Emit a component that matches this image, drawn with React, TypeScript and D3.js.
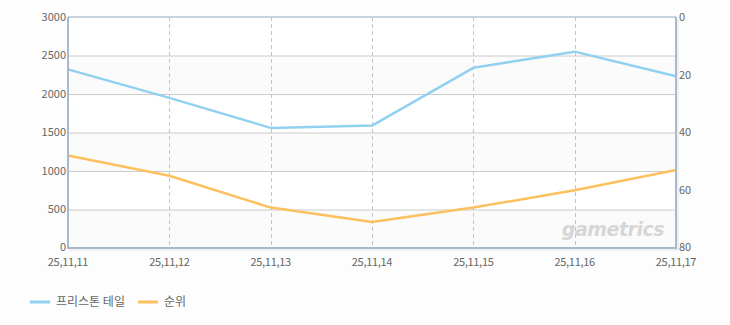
import React from "react";
import * as d3 from "d3";

const categories = ["25,11,11", "25,11,12", "25,11,13", "25,11,14", "25,11,15", "25,11,16", "25,11,17"];
const seriesA = [2320, 1950, 1560, 1590, 2340, 2550, 2230];
const seriesRank = [48, 55, 66, 71, 66, 60, 53];
const leftTicks = [0, 500, 1000, 1500, 2000, 2500, 3000];
const rightTicks = [0, 20, 40, 60, 80];
const seriesNames = ["프리스톤 테일", "순위"];

const W = 730, H = 325;
const L = 68, R = 676, T = 17, B = 248;
const font = "'Noto Sans CJK KR', 'DejaVu Sans', sans-serif";

export default function App() {
  const x = d3.scalePoint<string>().domain(categories).range([L, R]);
  const yL = d3.scaleLinear().domain([0, 3000]).range([B, T]);
  const yR = d3.scaleLinear().domain([0, 80]).range([T, B]);
  const lineA = d3.line<number>().x((_, i) => x(categories[i])!).y(d => yL(d));
  const lineR = d3.line<number>().x((_, i) => x(categories[i])!).y(d => yR(d));
  const bands = leftTicks.slice(0, -1).map((t, i) => ({ t0: t, t1: leftTicks[i + 1], i }));

  return (
    <svg width={W} height={H} style={{ position: "absolute", left: 0, top: 0, background: "#fdfdfd" }}>
      <rect x={0} y={0} width={W} height={H} fill="#fdfdfd" />
      {bands.map(b => (
        <rect key={b.i} x={L} y={yL(b.t1)} width={R - L} height={yL(b.t0) - yL(b.t1)} fill={b.i % 2 === 0 ? "#fbfbfb" : "#ffffff"} />
      ))}
      {leftTicks.slice(1, -1).map(t => (
        <line key={t} x1={L} x2={R} y1={yL(t) + 0.5} y2={yL(t) + 0.5} stroke="#cccccc" strokeWidth={1} />
      ))}
      {categories.slice(1, -1).map(c => (
        <line key={c} x1={Math.round(x(c)!) + 0.5} x2={Math.round(x(c)!) + 0.5} y1={T} y2={B} stroke="#c4c4c4" strokeWidth={1} strokeDasharray="4,3" />
      ))}
      <text x={664} y={236} textAnchor="end" fontFamily="'DejaVu Sans', sans-serif" fontWeight="bold" fontStyle="italic" fontSize={19} fill="#d6d6d6" letterSpacing={-0.5}>gametrics</text>
      <path d={lineA(seriesA)!} fill="none" stroke="#92d0f0" strokeWidth={2.5} strokeLinejoin="round" />
      <path d={lineR(seriesRank)!} fill="none" stroke="#fcc05e" strokeWidth={2.5} strokeLinejoin="round" />
      <line x1={L} x2={R} y1={T} y2={T} stroke="#b7c5d6" strokeWidth={1.5} />
      <line x1={L} x2={L} y1={T} y2={B + 1} stroke="#a9b9cc" strokeWidth={2} />
      <line x1={R} x2={R} y1={T} y2={B + 1} stroke="#a9b9cc" strokeWidth={2} />
      <line x1={L} x2={R} y1={B} y2={B} stroke="#a9b9cc" strokeWidth={2} />
      <line x1={L + 1} x2={R + 2} y1={B + 2} y2={B + 2} stroke="#e2e2e2" strokeWidth={1} />
      <line x1={R + 2} x2={R + 2} y1={T + 2} y2={B + 2} stroke="#e2e2e2" strokeWidth={1} />
      {leftTicks.map(t => (
        <text key={t} x={L - 2} y={yL(t) - (t === 0 ? 1 : 0)} dy="0.35em" textAnchor="end" fontFamily={font} fontSize={11} fill="#666">{t}</text>
      ))}
      {rightTicks.map(t => (
        <text key={t} x={R + 3} y={yR(t) - (t === 80 ? 1 : 0)} dy="0.35em" textAnchor="start" fontFamily={font} fontSize={11} fill="#666">{t}</text>
      ))}
      {categories.map(c => (
        <text key={c} x={x(c)!} y={262} dy="0.35em" textAnchor="middle" fontFamily={font} fontSize={11} fill="#666" letterSpacing={-0.3}>{c}</text>
      ))}
      <line x1={30} x2={50} y1={302} y2={302} stroke="#92d0f0" strokeWidth={3} />
      <text x={56} y={302} dy="0.35em" fontFamily={font} fontSize={12} fill="#666">{seriesNames[0]}</text>
      <line x1={138} x2={158} y1={302} y2={302} stroke="#fcc05e" strokeWidth={3} />
      <text x={164} y={302} dy="0.35em" fontFamily={font} fontSize={12} fill="#666">{seriesNames[1]}</text>
    </svg>
  );
}
